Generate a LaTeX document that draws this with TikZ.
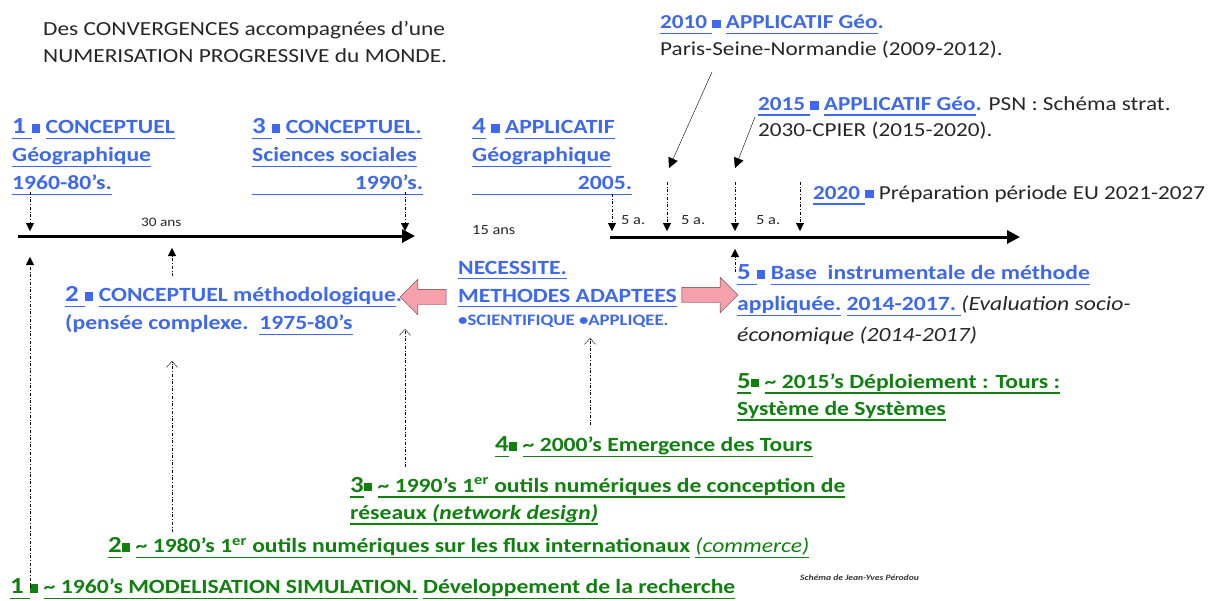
\documentclass[tikz,border=0pt]{standalone}
\usepackage{fontspec}
\setmainfont{Carlito}[FakeStretch=1.17]
\definecolor{tlblue}{RGB}{62,104,238}
\definecolor{tlgreen}{RGB}{16,128,16}
\definecolor{tlpink}{RGB}{245,160,170}
\definecolor{tlbrown}{RGB}{110,60,60}
\usetikzlibrary{arrows.meta,positioning,shapes.arrows}
\newsavebox{\ulbox}
\newcommand{\uln}[1]{\leavevmode\sbox{\ulbox}{#1}\rlap{\rule[\dimexpr-0.2em-1.3pt\relax]{\wd\ulbox}{1.3pt}}\usebox{\ulbox}}
\newcommand{\sqr}{\rule[0.05em]{0.42em}{0.42em}}
\newcommand{\numsz}{\fontsize{23}{28}\selectfont}

\begin{document}
\begin{tikzpicture}[x=1pt, y=-1pt,
  every node/.style={inner sep=0pt, anchor=west},
  bluetxt/.style={text=tlblue, font=\bfseries\fontsize{20.2}{28}\selectfont, align=left},
  greentxt/.style={text=tlgreen, font=\bfseries\fontsize{20.2}{27}\selectfont, align=left},
  blacktxt/.style={text=black!85, font=\fontsize{19.8}{27}\selectfont, align=left},
  smalltxt/.style={text=black!85, font=\fontsize{13}{15}\selectfont},
  timeline/.style={line width=3pt, -{Triangle[length=13pt,width=13pt]}},
  tickdown/.style={dash dot, thin, -{Triangle[length=8pt,width=8pt]}},
  tickup/.style={dash dot, thin, -{Triangle[length=8pt,width=8pt]}},
  chevron/.style={dash dot, thin, -{Straight Barb[length=6pt,width=11pt]}},
  pointer/.style={thin, -{Triangle[length=10pt,width=10pt]}},
  pushbox/.style={single arrow, draw=tlbrown, fill=tlpink, inner xsep=0pt, inner ysep=7.5pt,
    minimum width=35pt, single arrow head extend=10pt}]
\useasboundingbox (0,0) rectangle (1225,600);

% Title
\node[blacktxt, font=\fontsize{20}{27}\selectfont] (title) at (43,42)
  {Des CONVERGENCES accompagnées d’une\\NUMERISATION PROGRESSIVE du MONDE.};

% Conceptual / applied stages (blue)
\node[bluetxt] (conc1) at (12,157)
  {\uln{\numsz 1 }\sqr\ \uln{CONCEPTUEL}\\\uln{Géographique}\\\uln{1960-80’s.}};
\node[bluetxt] (conc3) at (252,157)
  {\uln{\numsz 3 }\sqr\ \uln{CONCEPTUEL.}\\\uln{Sciences sociales}\\\uln{\makebox[171pt][r]{1990’s.}}};
\node[bluetxt] (appl4) at (472,157)
  {\uln{\numsz 4}\ \sqr\ \uln{APPLICATIF}\\\uln{Géographique}\\\uln{\makebox[160pt][r]{2005.}}};
\node[blacktxt] (appl2010) at (660,37)
  {{\color{tlblue}\bfseries\uln{2010 }\sqr\ \uln{APPLICATIF Géo}.}\\Paris-Seine-Normandie (2009-2012).};
\node[blacktxt, font=\fontsize{19.8}{26}\selectfont] (appl2015) at (758,118)
  {{\color{tlblue}\bfseries\uln{2015 }\sqr\ \uln{APPLICATIF Géo}.} PSN : Schéma strat.\\2030-CPIER (2015-2020).};
\node[blacktxt] (prep2020) at (813,195)
  {{\color{tlblue}\bfseries\uln{2020 }\sqr} Préparation période EU 2021-2027};
\node[bluetxt] (conc2) at (65,311)
  {\uln{\numsz 2 }\sqr\ \uln{CONCEPTUEL méthodologique}.\\(pensée complexe.\ \ \uln{1975-80’s}};
\node[bluetxt] (need) at (458,294)
  {\uln{NECESSITE.}\\\uln{METHODES ADAPTEES}\\[-5pt]{\fontsize{16}{18}\selectfont \textbullet SCIENTIFIQUE \textbullet APPLIQEE.}};
\node[bluetxt, font=\bfseries\fontsize{20.2}{31}\selectfont] (base5) at (737,305)
  {\uln{\numsz 5 }\sqr\ \uln{Base\ \ instrumentale de méthode}\\
   \uln{appliquée.} \uln{2014-2017.\ }{\color{black!85}\mdseries\itshape (Evaluation socio-}\\
   {\color{black!85}\mdseries\itshape économique (2014-2017)}};

% Digital tools (green)
\node[greentxt] (tool5) at (737,397)
  {\uln{\numsz 5}\sqr\ \uln{\textasciitilde\ 2015’s Déploiement : Tours :}\\\uln{Système de Systèmes}};
\node[greentxt] (tool4) at (495,447)
  {\uln{\numsz 4}\sqr\ \uln{\textasciitilde\ 2000’s Emergence des Tours}};
\node[greentxt] (tool3) at (350,501)
  {\uln{\numsz 3}\sqr\ \uln{\textasciitilde\ 1990’s 1\textsuperscript{er} outils numériques de conception de}\\\uln{réseaux \textit{(network design)}}};
\node[greentxt] (tool2) at (108,548)
  {\uln{\numsz 2}\sqr\ \uln{\textasciitilde\ 1980’s 1\textsuperscript{er} outils numériques sur les flux internationaux} \uln{\mdseries\itshape (commerce)}};
\node[greentxt] (tool1) at (10,589)
  {\uln{\numsz 1 }\sqr\ \uln{\textasciitilde\ 1960’s MODELISATION SIMULATION.} \uln{Développement de la recherche}};
\node[text=black!80, font=\bfseries\itshape\fontsize{8.2}{10}\selectfont] (credit) at (800,578)
  {Schéma de Jean-Yves Pérodou};

% Timelines
\coordinate (tl1s) at (18,236);
\coordinate (tl1e) at (415,236);
\coordinate (tl2s) at (610,237);
\coordinate (tl2e) at (1020,237);
\draw[timeline] (tl1s) -- (tl1e);
\draw[timeline] (tl2s) -- (tl2e);
\node[smalltxt] (span30) at (141,222) {30 ans};
\node[smalltxt, font=\fontsize{14}{16}\selectfont] (span15) at (472,230) {15 ans};
\foreach \x in {621,681,756}
  \node[smalltxt, font=\fontsize{14}{16}\selectfont] (span\x) at (\x,220) {5 a.};

% Ticks down onto the timelines
\foreach \x/\t in {30/192, 405/192, 612/194, 667/182, 735/182, 800/182} {
  \coordinate (dtop\x) at (\x,\t);
  \coordinate (dbot\x) at (\x,231);
  \draw[tickdown] (dtop\x) -- (dbot\x);
}

% Pointers from the 2010 and 2015 notes
\coordinate (p2010) at (712,72);
\coordinate (p2010e) at (669,168);
\coordinate (p2015) at (755,117);
\coordinate (p2015e) at (735,168);
\draw[pointer] (p2010) -- (p2010e);
\draw[pointer] (p2015) -- (p2015e);

% Arrows up from the tools
\coordinate (u1a) at (30,588);  \coordinate (u1b) at (30,257);
\coordinate (u2a) at (172,276); \coordinate (u2b) at (172,248);
\coordinate (u5a) at (735,272); \coordinate (u5b) at (735,249);
\draw[tickup] (u1a) -- (u1b);
\draw[tickup] (u2a) -- (u2b);
\draw[tickup] (u5a) -- (u5b);
\coordinate (c2a) at (172,532); \coordinate (c2b) at (172,361);
\coordinate (c3a) at (405,467); \coordinate (c3b) at (405,329);
\coordinate (c4a) at (590,425); \coordinate (c4b) at (590,338);
\draw[chevron] (c2a) -- (c2b);
\draw[chevron] (c3a) -- (c3b);
\draw[chevron] (c4a) -- (c4b);

% Push arrows
\node[pushbox, shape border rotate=180, minimum height=46pt, anchor=center] (pushleft) at (427,297) {};
\node[pushbox, minimum height=56pt, anchor=center] (pushright) at (706,295) {};
\end{tikzpicture}
\end{document}
